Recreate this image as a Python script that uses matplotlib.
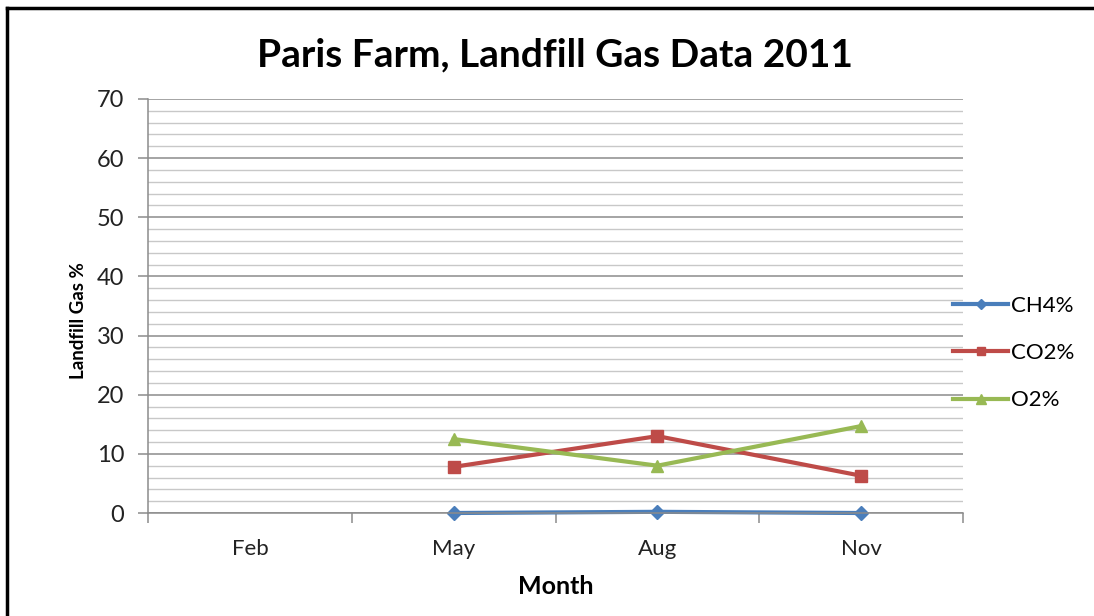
import matplotlib.pyplot as plt
from matplotlib.ticker import MultipleLocator, FixedLocator

plt.rcParams['font.family'] = ['Lato', 'DejaVu Sans']

maanden = ["Feb", "May", "Aug", "Nov"]
ch4 = [None, 0.0, 0.2, 0.0]
co2 = [None, 7.8, 13.0, 6.3]
o2 = [None, 12.5, 8.0, 14.7]

x = list(range(len(maanden)))

f = plt.figure(figsize=(10.94, 6.16), dpi=100)
ax = f.add_axes([0.1353, 0.1672, 0.745, 0.6721])

def punten(vals):
    xs = [i for i, v in zip(x, vals) if v is not None]
    ys = [v for v in vals if v is not None]
    return xs, ys

l1, = ax.plot(*punten(ch4), color="#4A7EBB", lw=3.0, marker="D", ms=7, label="CH4%", clip_on=False)
l2, = ax.plot(*punten(co2), color="#BE4B48", lw=3.0, marker="s", ms=8, label="CO2%", clip_on=False)
l3, = ax.plot(*punten(o2), color="#98B954", lw=3.0, marker="^", ms=9, label="O2%", clip_on=False)

ax.set_xlim(-0.5, 3.5)
ax.set_ylim(0, 70)
ax.yaxis.set_major_locator(MultipleLocator(10))
ax.yaxis.set_minor_locator(MultipleLocator(2))
ax.grid(True, which="major", axis="y", color="#8c8c8c", lw=1.1)
ax.grid(True, which="minor", axis="y", color="#c8c8c8", lw=1.0)
ax.set_axisbelow(True)

ax.set_xticks(x)
ax.set_xticklabels(maanden)
ax.xaxis.set_minor_locator(FixedLocator([-0.5, 0.5, 1.5, 2.5, 3.5]))
ax.tick_params(axis="x", which="major", length=0, pad=19, labelsize=16, labelcolor="#222222")
ax.tick_params(axis="x", which="minor", length=7, color="#8c8c8c", width=1.1)
ax.tick_params(axis="y", which="major", length=7, color="#8c8c8c", width=1.1, labelsize=17,
               pad=10, labelcolor="#222222")
ax.tick_params(axis="y", which="minor", length=0)

for s in ["top", "right"]:
    ax.spines[s].set_visible(False)
for s in ["left", "bottom"]:
    ax.spines[s].set_color("#8c8c8c")
    ax.spines[s].set_linewidth(1.1)

f.text(0.507, 0.91, "Paris Farm, Landfill Gas Data 2011", ha="center", va="center",
       fontsize=28, fontweight="bold")
ax.set_xlabel("Month", fontsize=18, fontweight="bold", labelpad=11)
ax.set_ylabel("Landfill Gas %", fontsize=13.5, fontweight="bold")
ax.yaxis.set_label_coords(-0.0749, 0.466)

f.legend(handles=[l1, l2, l3], loc="upper left", bbox_to_anchor=(0.871, 0.520),
         frameon=False, fontsize=16, handlelength=2.5, handletextpad=0.1,
         labelspacing=1.23, borderaxespad=0, borderpad=0, markerscale=0.8)

# rand rond de grafiek
f.add_artist(plt.Line2D([0.0068, 0.0068], [0.0, 0.987], color="black", lw=2.5, transform=f.transFigure))
f.add_artist(plt.Line2D([0.0068, 1.0], [0.987, 0.987], color="black", lw=2.5, transform=f.transFigure))

plt.savefig("out.png", dpi=100)
